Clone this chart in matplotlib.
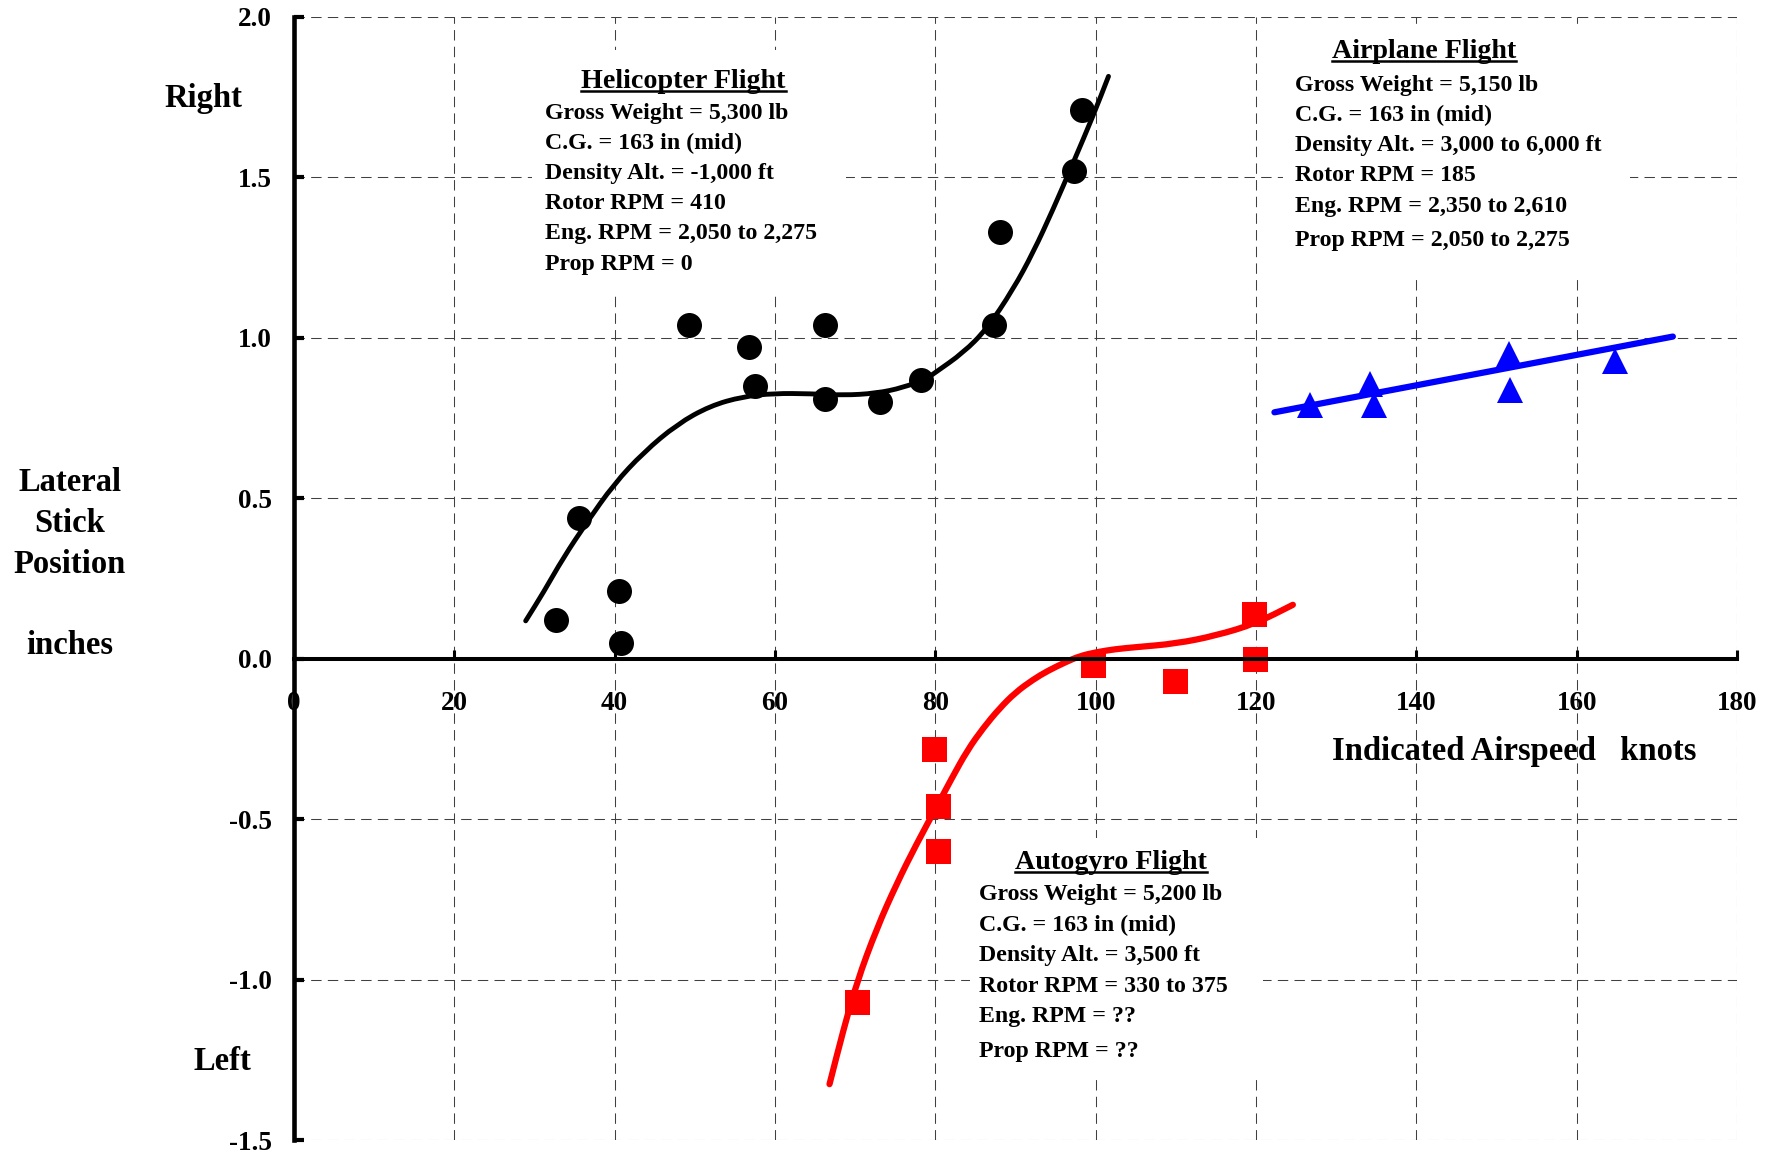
import matplotlib
matplotlib.use('Agg')
import matplotlib.pyplot as plt
from matplotlib.patches import Rectangle, PathPatch
from matplotlib.lines import Line2D
from matplotlib.path import Path

plt.rcParams['font.family'] = 'Liberation Serif'
plt.rcParams['font.weight'] = 'bold'
plt.rcParams['axes.unicode_minus'] = False

# helicopter flight: test points and trend line
heli_x = [32.7, 35.5, 40.6, 40.8, 49.3, 56.8, 57.5, 66.2, 66.2, 73.1, 78.2, 87.3, 88.1, 97.3, 98.3]
heli_y = [0.12, 0.44, 0.21, 0.05, 1.04, 0.97, 0.85, 1.04, 0.81, 0.80, 0.87, 1.04, 1.33, 1.52, 1.71]
heli_fit_x = [28.9, 31.1, 33.6, 36.5, 39.9, 43.6, 47.8, 51.9, 56.0, 59.9, 64.4, 68.5, 72.6, 76.0,
              78.9, 80.0, 83.5, 86.4, 89.7, 92.2, 94.7, 97.2, 99.7, 101.6]
heli_fit_y = [0.118, 0.206, 0.315, 0.424, 0.544, 0.643, 0.731, 0.788, 0.817, 0.827, 0.826, 0.821, 0.827, 0.845,
              0.873, 0.892, 0.954, 1.027, 1.151, 1.266, 1.401, 1.546, 1.693, 1.815]

# autogyro flight
gyro_x = [70.2, 79.8, 80.3, 80.3, 99.7, 109.9, 119.7, 119.9]
gyro_y = [-1.07, -0.28, -0.46, -0.60, -0.02, -0.07, 0.14, 0.0]
gyro_fit_x = [66.8, 68.5, 70.2, 72.7, 75.2, 77.6, 80.3, 82.0, 84.0, 86.0, 88.0, 90.0, 92.2, 94.0,
              96.3, 98.0, 100.0, 102.5, 105.0, 110.0, 115.0, 120.0, 124.6]
gyro_fit_y = [-1.326, -1.160, -1.009, -0.840, -0.700, -0.580, -0.455, -0.375, -0.285, -0.215, -0.155, -0.105,
              -0.065, -0.038, -0.010, 0.008, 0.020, 0.030, 0.036, 0.047, 0.072, 0.110, 0.168]

# airplane flight
plane_x = [126.7, 134.2, 134.7, 151.5, 151.7, 164.8]
plane_y = [0.79, 0.857, 0.79, 0.95, 0.836, 0.929]
plane_fit_x = [122.3, 172.0]
plane_fit_y = [0.768, 1.004]

x_ticks = [0, 20, 40, 60, 80, 100, 120, 140, 160, 180]
y_ticks = [-1.5, -1.0, -0.5, 0.0, 0.5, 1.0, 1.5, 2.0]

heli_title = 'Helicopter Flight'
heli_lines = ['Gross Weight = 5,300 lb', 'C.G. = 163 in (mid)', 'Density Alt. = -1,000 ft',
              'Rotor RPM = 410', 'Eng. RPM = 2,050 to 2,275', 'Prop RPM = 0']
plane_title = 'Airplane Flight'
plane_lines = ['Gross Weight = 5,150 lb', 'C.G. = 163 in (mid)', 'Density Alt. = 3,000 to 6,000 ft',
               'Rotor RPM = 185', 'Eng. RPM = 2,350 to 2,610', 'Prop RPM = 2,050 to 2,275']
gyro_title = 'Autogyro Flight'
gyro_lines = ['Gross Weight = 5,200 lb', 'C.G. = 163 in (mid)', 'Density Alt. = 3,500 ft',
              'Rotor RPM = 330 to 375', 'Eng. RPM = ??', 'Prop RPM = ??']

W, H = 1772, 1156
fig = plt.figure(figsize=(W / 100, H / 100), dpi=100)
ax = fig.add_axes([294 / W, 1 - 1140 / H, (1737 - 294) / W, (1140 - 17) / H])


def smooth_line(xs, ys, color, lw):
    # quadratic bezier through the midpoints, read points act as control points
    pts = list(zip(xs, ys))
    mid = lambda a, b: ((a[0] + b[0]) / 2, (a[1] + b[1]) / 2)
    verts = [pts[0], mid(pts[0], pts[1])]
    codes = [Path.MOVETO, Path.LINETO]
    for i in range(1, len(pts) - 1):
        verts += [pts[i], mid(pts[i], pts[i + 1])]
        codes += [Path.CURVE3, Path.CURVE3]
    verts.append(pts[-1])
    codes.append(Path.LINETO)
    ax.add_patch(PathPatch(Path(verts, codes), fill=False, edgecolor=color, lw=lw,
                           capstyle='round', joinstyle='round', zorder=2))


smooth_line(heli_fit_x, heli_fit_y, 'black', 3.5)
ax.plot(heli_x, heli_y, 'o', color='black', ms=18, mew=0, clip_on=False)
smooth_line(gyro_fit_x, gyro_fit_y, '#ff0000', 4.5)
ax.plot(gyro_x, gyro_y, 's', color='#ff0000', ms=18, mew=0, clip_on=False)
ax.plot(plane_fit_x, plane_fit_y, '-', color='#0000ff', lw=4.5, solid_capstyle='round')
ax.plot(plane_x, plane_y, '^', color='#0000ff', ms=19, mew=0, clip_on=False)

ax.set_xlim(0, 180)
ax.set_ylim(-1.5, 2.0)
ax.set_xticks(x_ticks)
ax.set_xticklabels([str(v) for v in x_ticks])
ax.set_yticks(y_ticks)
ax.set_yticklabels(['%.1f' % v for v in y_ticks])

ax.spines['top'].set_visible(False)
ax.spines['right'].set_visible(False)
ax.spines['bottom'].set_position(('data', 0))
ax.spines['bottom'].set_linewidth(2.9)
ax.spines['left'].set_linewidth(3.3)
ax.tick_params(axis='y', direction='in', length=7, width=3, pad=16, labelsize=19.5)
ax.tick_params(axis='x', direction='in', length=6.5, width=2.2, pad=23, labelsize=19.5)
ax.grid(True, ls=(0, (10, 6)), lw=0.75, color='#404040')
ax.set_axisbelow(True)


def put(x, y, s, size, ha='left'):
    return fig.text(x / W, 1 - y / H, s, fontsize=size, ha=ha, va='baseline', fontweight='bold')


# axis captions
put(203, 106.7, 'Right', 23.5, 'center')
put(70, 491, 'Lateral', 23.5, 'center')
put(70, 532, 'Stick', 23.5, 'center')
put(70, 573, 'Position', 23.5, 'center')
put(70, 654, 'inches', 23.5, 'center')
put(222, 1070, 'Left', 23.5, 'center')
put(1514, 760, 'Indicated Airspeed   knots', 23.5, 'center')

# text blocks: white box, underlined title, body lines
blocks = [
    (heli_title, heli_lines, (532, 50, 846, 293), 683.5, 88.3, 545,
     [119.3, 149.3, 179.3, 209.3, 239.3, 270.0]),
    (plane_title, plane_lines, (1283, 25, 1630, 278), 1423.7, 58.3, 1295,
     [90.7, 120.7, 151.0, 181.0, 211.7, 246.0]),
    (gyro_title, gyro_lines, (970, 838, 1263, 1075), 1111.3, 869.3, 979.3,
     [900.0, 931.0, 960.7, 991.7, 1021.7, 1056.7]),
]

titles = []
for title, lines, box, tx, ty, lx, ly in blocks:
    x0, y0, x1, y1 = box
    fig.add_artist(Rectangle((x0 / W, 1 - y1 / H), (x1 - x0) / W, (y1 - y0) / H,
                             transform=fig.transFigure, facecolor='white', edgecolor='none', zorder=1))
    titles.append((put(tx, ty, title, 20.2, 'center'), ty))
    for s, yy in zip(lines, ly):
        put(lx, yy, s, 17.2)

fig.canvas.draw()
r = fig.canvas.get_renderer()
for t, ty in titles:
    bb = t.get_window_extent(r)
    yy = 1 - (ty + 3) / H
    fig.add_artist(Line2D([bb.x0 / W, bb.x1 / W], [yy, yy], transform=fig.transFigure,
                          color='black', lw=1.8, zorder=4))

fig.savefig('out.png', dpi=100)
